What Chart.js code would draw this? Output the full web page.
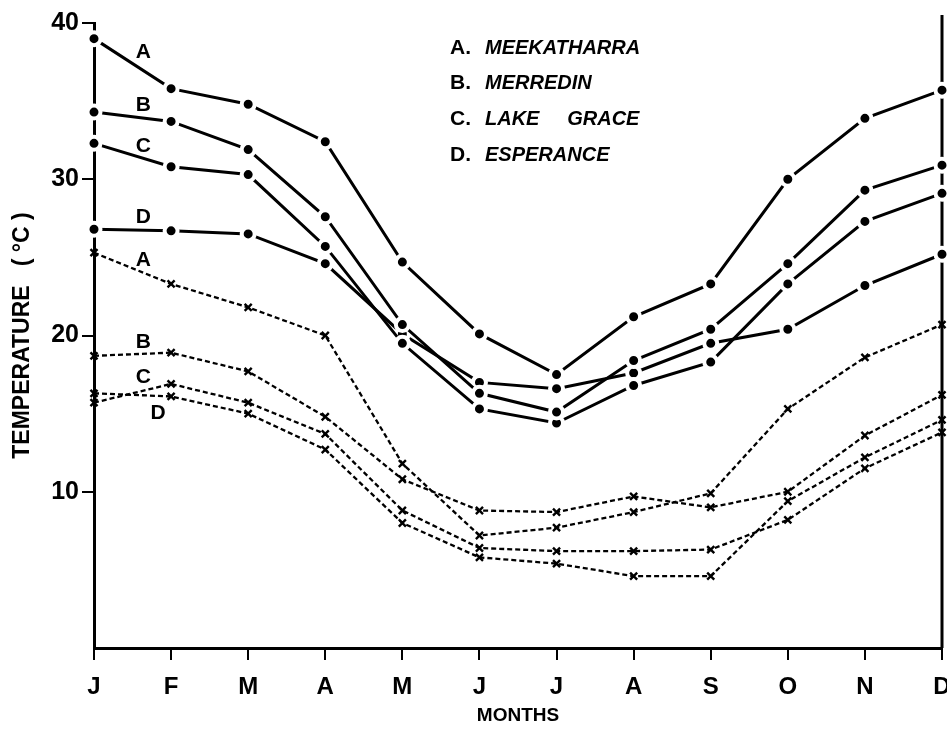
<!DOCTYPE html>
<html>
<head>
<meta charset="utf-8">
<script src="https://cdn.jsdelivr.net/npm/chart.js@4.4.1/dist/chart.umd.min.js"></script>
<style>
  html, body { margin: 0; padding: 0; background: #fff; }
</style>
</head>
<body>
<canvas id="tempChart" width="947" height="729"></canvas>
<script>
const months = ['J', 'F', 'M', 'A', 'M', 'J', 'J', 'A', 'S', 'O', 'N', 'D'];

// mean monthly maximum temperatures (solid lines, dots)
const maxMeekatharra = [39.0, 35.8, 34.8, 32.4, 24.7, 20.1, 17.5, 21.2, 23.3, 30.0, 33.9, 35.7];
const maxMerredin = [34.3, 33.7, 31.9, 27.6, 20.7, 16.3, 15.1, 18.4, 20.4, 24.6, 29.3, 30.9];
const maxLakeGrace = [32.3, 30.8, 30.3, 25.7, 19.5, 15.3, 14.4, 16.8, 18.3, 23.3, 27.3, 29.1];
const maxEsperance = [26.8, 26.7, 26.5, 24.6, 20.1, 17.0, 16.6, 17.6, 19.5, 20.4, 23.2, 25.2];

// mean monthly minimum temperatures (dashed lines, crosses)
const minMeekatharra = [25.3, 23.3, 21.8, 20.0, 11.8, 7.2, 7.7, 8.7, 9.9, 15.3, 18.6, 20.7];
const minMerredin = [18.7, 18.9, 17.7, 14.8, 10.8, 8.8, 8.7, 9.7, 9.0, 10.0, 13.6, 16.2];
const minLakeGrace = [15.7, 16.9, 15.7, 13.7, 8.8, 6.4, 6.2, 6.2, 6.3, 8.2, 11.5, 13.8];
const minEsperance = [16.3, 16.1, 15.0, 12.7, 8.0, 5.8, 5.4, 4.6, 4.6, 9.4, 12.2, 14.6];

const yTicks = [0, 10, 20, 30, 40];
const stationNames = ['MEEKATHARRA', 'MERREDIN', 'LAKE     GRACE', 'ESPERANCE'];
const stationKeys = ['A', 'B', 'C', 'D'];

const FONT = '"Liberation Sans", Arial, Helvetica, sans-serif';

function maxSeries(label, data) {
    return {
        label: label,
        data: data,
        borderColor: '#000',
        borderWidth: 3,
        pointStyle: 'circle',
        pointRadius: 6.5,
        pointBackgroundColor: '#000',
        pointBorderColor: '#fff',
        pointBorderWidth: 4,
        tension: 0,
        clip: false
    };
}

function minSeries(label, data) {
    return {
        label: label,
        data: data,
        borderColor: '#000',
        borderWidth: 2.3,
        borderDash: [5, 3],
        pointStyle: 'crossRot',
        pointRadius: 5,
        pointBorderColor: '#000',
        pointBorderWidth: 2.4,
        tension: 0,
        clip: false
    };
}

const datasets = [
    maxSeries('A max', maxMeekatharra),
    maxSeries('B max', maxMerredin),
    maxSeries('C max', maxLakeGrace),
    maxSeries('D max', maxEsperance),
    minSeries('A min', minMeekatharra),
    minSeries('B min', minMerredin),
    minSeries('C min', minLakeGrace),
    minSeries('D min', minEsperance)
];

// right hand frame line, drawn under the points so the dots break it
const frameLine = {
    id: 'frameLine',
    beforeDatasetsDraw(chart) {
        const { ctx, chartArea } = chart;
        ctx.save();
        ctx.strokeStyle = '#000';
        ctx.lineWidth = 3;
        ctx.beginPath();
        ctx.moveTo(chartArea.right, chartArea.top - 8);
        ctx.lineTo(chartArea.right, chartArea.bottom);
        ctx.stroke();
        ctx.restore();
    }
};

// month letters, curve letters and the key in the top middle
const annotations = {
    id: 'annotations',
    afterDatasetsDraw(chart) {
        const { ctx, chartArea } = chart;
        const x = chart.scales.x;
        const y = chart.scales.y;
        ctx.save();
        ctx.fillStyle = '#000';
        ctx.textAlign = 'center';
        ctx.textBaseline = 'middle';

        ctx.font = 'bold 24px ' + FONT;
        months.forEach((m, i) => ctx.fillText(m, x.getPixelForValue(i), chartArea.bottom + 39));

        ctx.font = 'bold 21px ' + FONT;
        const tags = [
            ['A', 0.64, 38.1], ['B', 0.64, 34.75], ['C', 0.64, 32.1], ['D', 0.64, 27.6],
            ['A', 0.64, 24.8], ['B', 0.64, 19.6], ['C', 0.64, 17.3], ['D', 0.83, 15.0]
        ];
        tags.forEach(([t, i, v]) => ctx.fillText(t, x.getPixelForValue(i), y.getPixelForValue(v)));

        ctx.textAlign = 'left';
        const kx = 450;
        stationKeys.forEach((k, i) => {
            const ky = chartArea.top + 25 + i * 35.7;
            ctx.font = 'bold 21px ' + FONT;
            ctx.fillText(k + '.', kx, ky);
            ctx.font = 'italic bold 20px ' + FONT;
            ctx.fillText(stationNames[i], kx + 35, ky);
        });
        ctx.restore();
    }
};

const chart = new Chart(document.getElementById('tempChart'), {
    type: 'line',
    data: {
        labels: months,
        datasets: datasets
    },
    options: {
        responsive: false,
        animation: false,
        events: [],
        layout: {
            autoPadding: false,
            padding: { top: 23, right: 5, left: 0, bottom: 0 }
        },
        plugins: {
            legend: { display: false },
            tooltip: { enabled: false }
        },
        scales: {
            x: {
                offset: false,
                afterFit(scale) {
                    scale.height = 81;
                    scale.paddingLeft = 0;
                    scale.paddingRight = 0;
                },
                border: { display: true, color: '#000', width: 3 },
                grid: {
                    drawOnChartArea: false,
                    drawTicks: true,
                    tickLength: 12,
                    color: '#000',
                    lineWidth: 2
                },
                ticks: {
                    display: false,
                    autoSkip: false
                },
                title: {
                    display: true,
                    text: 'MONTHS',
                    color: '#000',
                    padding: { top: 4, bottom: 2 },
                    font: { family: FONT, size: 19, weight: 'bold' }
                }
            },
            y: {
                min: 0,
                max: 40,
                afterFit(scale) {
                    scale.width = 94;
                    scale.paddingTop = 0;
                    scale.paddingBottom = 0;
                },
                afterBuildTicks(scale) { scale.ticks = yTicks.map(v => ({ value: v })); },
                border: { display: true, color: '#000', width: 3 },
                grid: {
                    drawOnChartArea: false,
                    drawTicks: true,
                    tickLength: 12,
                    color: c => (c.tick && c.tick.value === 0 ? 'rgba(0,0,0,0)' : '#000'),
                    lineWidth: 2
                },
                ticks: {
                    color: '#000',
                    padding: 3,
                    callback: v => (v === 0 ? '' : String(v)),
                    font: { family: FONT, size: 25, weight: 'bold' }
                },
                title: {
                    display: true,
                    text: 'TEMPERATURE   ( °C )',
                    color: '#000',
                    padding: { top: 9, bottom: 0 },
                    font: { family: FONT, size: 23, weight: 'bold' }
                }
            }
        }
    },
    plugins: [frameLine, annotations]
});
</script>
</body>
</html>
